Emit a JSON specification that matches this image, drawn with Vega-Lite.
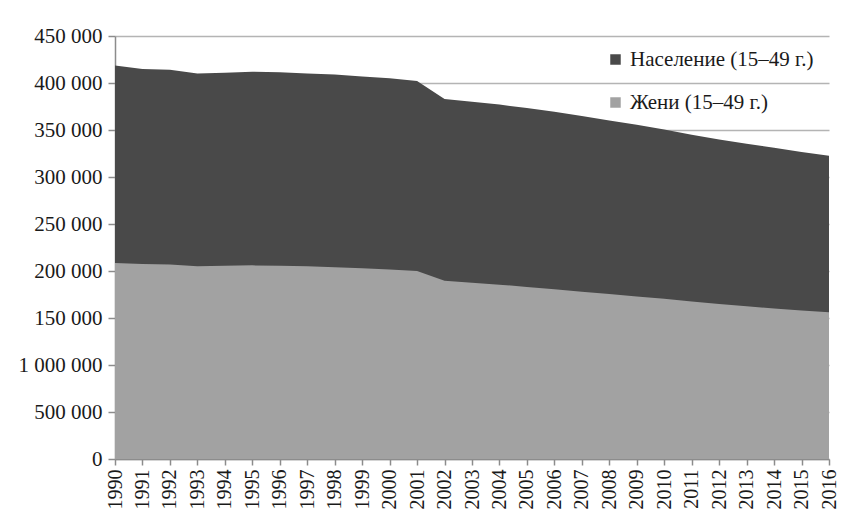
{
  "$schema": "https://vega.github.io/schema/vega-lite/v6.json",
  "width": 714,
  "height": 423,
  "autosize": {"type": "none"},
  "padding": {"left": 115, "top": 36, "right": 13, "bottom": 68},
  "background": "white",
  "config": {
    "view": {"stroke": null},
    "font": "Liberation Serif",
    "axis": {"labelFont": "Liberation Serif", "labelColor": "#1a1a1a", "domainColor": "#8c8c8c", "tickColor": "#8c8c8c", "domainWidth": 1.5, "tickWidth": 1.5},
    "legend": {"labelFont": "Liberation Serif"}
  },
  "data": {"values": [
    {"year": 1990, "pop": 418500, "women": 208500},
    {"year": 1991, "pop": 415000, "women": 207500},
    {"year": 1992, "pop": 414000, "women": 207000},
    {"year": 1993, "pop": 410000, "women": 205000},
    {"year": 1994, "pop": 411000, "women": 205500},
    {"year": 1995, "pop": 412000, "women": 206000},
    {"year": 1996, "pop": 411500, "women": 205500},
    {"year": 1997, "pop": 410000, "women": 205000},
    {"year": 1998, "pop": 409000, "women": 204000},
    {"year": 1999, "pop": 407000, "women": 203000},
    {"year": 2000, "pop": 405000, "women": 201500},
    {"year": 2001, "pop": 402000, "women": 200000},
    {"year": 2002, "pop": 383000, "women": 189500},
    {"year": 2003, "pop": 380000, "women": 187500},
    {"year": 2004, "pop": 377000, "women": 185500},
    {"year": 2005, "pop": 373500, "women": 183000},
    {"year": 2006, "pop": 369500, "women": 180500},
    {"year": 2007, "pop": 365000, "women": 178000},
    {"year": 2008, "pop": 360000, "women": 175500},
    {"year": 2009, "pop": 355500, "women": 173000},
    {"year": 2010, "pop": 350500, "women": 170500},
    {"year": 2011, "pop": 345000, "women": 167500},
    {"year": 2012, "pop": 340000, "women": 165000},
    {"year": 2013, "pop": 335500, "women": 162500},
    {"year": 2014, "pop": 331000, "women": 160000},
    {"year": 2015, "pop": 326500, "women": 158000},
    {"year": 2016, "pop": 322500, "women": 156000}
  ]},
  "encoding": {
    "x": {
      "field": "year", "type": "quantitative",
      "scale": {"domain": [1990, 2016], "nice": false, "zero": false},
      "axis": {
        "title": null, "values": [1990,1991,1992,1993,1994,1995,1996,1997,1998,1999,2000,2001,2002,2003,2004,2005,2006,2007,2008,2009,2010,2011,2012,2013,2014,2015,2016],
        "format": "d", "labelAngle": -90, "labelFontSize": 20, "tickSize": 6, "labelPadding": 4, "grid": false, "labelOverlap": false, "labelFlush": false
      }
    }
  },
  "layer": [
    {
      "mark": {"type": "area", "opacity": 1},
      "encoding": {
        "y": {
          "field": "pop", "type": "quantitative",
          "scale": {"domain": [0, 450000], "nice": false},
          "axis": {
            "title": null,
            "values": [0, 50000, 100000, 150000, 200000, 250000, 300000, 350000, 400000, 450000],
            "labelExpr": "datum.value == 0 ? '0' : datum.value == 50000 ? '500 000' : datum.value == 100000 ? '1 000 000' : (datum.value / 1000) + ' 000'",
            "labelFontSize": 21, "tickSize": 7, "labelPadding": 6,
            "grid": true, "gridColor": "#b4b4b4", "gridWidth": 1.5
          }
        },
        "color": {
          "datum": "Население (15–49 г.)",
          "type": "nominal",
          "scale": {"domain": ["Население (15–49 г.)", "Жени (15–49 г.)"], "range": ["#494949", "#a2a2a2"]},
          "legend": {
            "title": null, "orient": "none", "legendX": 490, "legendY": 13,
            "symbolType": "square", "symbolSize": 110, "symbolStrokeWidth": 0, "symbolOpacity": 1,
            "labelFontSize": 21, "labelColor": "#1a1a1a", "labelOffset": 4, "labelLimit": 400,
            "rowPadding": 21
          }
        }
      }
    },
    {
      "mark": {"type": "area", "opacity": 1},
      "encoding": {
        "y": {"field": "women", "type": "quantitative"},
        "color": {"datum": "Жени (15–49 г.)", "type": "nominal"}
      }
    }
  ]
}
